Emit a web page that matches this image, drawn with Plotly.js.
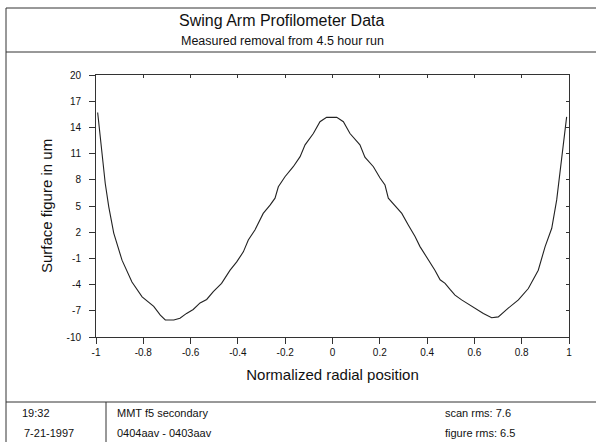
<!DOCTYPE html>
<html>
<head>
<meta charset="utf-8">
<script src="https://cdn.plot.ly/plotly-3.0.1.min.js"></script>
<style>html,body{margin:0;padding:0;background:#fff}#chart{width:596px;height:442px}</style>
</head>
<body>
<div id="chart"></div>
<script>
// ---- data ----
const radialPosition = [-0.993,-0.975,-0.961,-0.946,-0.925,-0.890,-0.848,-0.805,-0.756,-0.728,-0.707,-0.671,-0.645,-0.617,-0.589,-0.560,-0.532,-0.504,-0.469,-0.433,-0.405,-0.377,-0.356,-0.328,-0.293,-0.264,-0.243,-0.229,-0.201,-0.166,-0.137,-0.116,-0.081,-0.053,-0.025,0.018,0.046,0.074,0.102,0.116,0.137,0.173,0.201,0.222,0.236,0.264,0.293,0.321,0.349,0.370,0.398,0.433,0.455,0.476,0.497,0.518,0.546,0.581,0.610,0.638,0.673,0.701,0.743,0.786,0.828,0.870,0.899,0.927,0.948,0.969,0.990];
const surfaceFigure = [15.7,11.4,7.6,4.9,1.9,-1.2,-3.7,-5.4,-6.5,-7.5,-8.05,-8.05,-7.85,-7.3,-6.85,-6.1,-5.7,-4.8,-3.85,-2.35,-1.4,-0.25,1.1,2.25,4.15,5.1,5.9,7.2,8.35,9.5,10.65,12.0,13.3,14.65,15.15,15.15,14.65,13.3,12.4,12.0,10.6,9.5,8.2,7.4,5.9,5.1,4.15,2.8,1.5,0.35,-0.8,-2.35,-3.45,-3.85,-4.55,-5.2,-5.75,-6.35,-6.85,-7.3,-7.8,-7.7,-6.7,-5.75,-4.45,-2.35,0.35,2.45,5.7,10.3,15.2];
const xTickValues = [-1,-0.8,-0.6,-0.4,-0.2,0,0.2,0.4,0.6,0.8,1];
const xTickLabels = ['-1','-0.8','-0.6','-0.4','-0.2','0','0.2','0.4','0.6','0.8','1'];
const yTickValues = [20,17,14,11,8,5,2,-1,-4,-7,-10];
const yTickLabels = ['20','17','14','11','8','5','2','-1','-4','-7','-10'];
const titleText = 'Swing Arm Profilometer Data';
const subtitleText = 'Measured removal from 4.5 hour run';
const xTitle = 'Normalized radial position';
const yTitle = 'Surface figure in um';
const footerTime = '19:32';
const footerDate = '7-21-1997';
const footerPart = 'MMT f5 secondary';
const footerFiles = '0404aav - 0403aav';
const footerScan = 'scan rms: 7.6';
const footerFigure = 'figure rms: 6.5';

// ---- layout helpers ----
const W = 596, H = 442;
const L = 96, R = 569, T = 75, B = 337;
const FONT = 'Arial, "Liberation Sans", sans-serif';
const px = v => (v - L) / (R - L);
const py = v => (B - v) / (B - T);
const lineColor = '#333';

function hline(y, x0, x1) {
  return {type:'line', xref:'paper', yref:'paper', x0:px(x0), x1:px(x1), y0:py(y), y1:py(y), line:{color:lineColor, width:1}};
}
function vline(x, y0, y1) {
  return {type:'line', xref:'paper', yref:'paper', x0:px(x), x1:px(x), y0:py(y0), y1:py(y1), line:{color:lineColor, width:1}};
}
function label(text, x, y, size, anchor) {
  return {text:text, xref:'paper', yref:'paper', x:px(x), y:py(y), xanchor:anchor||'left', yanchor:'middle', showarrow:false, font:{family:FONT, size:size, color:'#111'}};
}

const trace = {
  x: radialPosition, y: surfaceFigure, type:'scatter', mode:'lines',
  line:{color:'#222', width:1.1}, hoverinfo:'skip', showlegend:false
};
const mirrorTrace = {x:[], y:[], xaxis:'x2', yaxis:'y2', type:'scatter', mode:'lines', showlegend:false, hoverinfo:'skip'};

const layout = {
  width:W, height:H,
  margin:{l:L, r:W-R, t:T, b:H-B, pad:0},
  paper_bgcolor:'#fff', plot_bgcolor:'#fff',
  font:{family:FONT, color:'#111'},
  showlegend:false,
  xaxis:{
    range:[-1,1], tickvals:xTickValues, ticktext:xTickLabels,
    ticks:'outside', ticklen:6, tickwidth:1, tickcolor:lineColor,
    showline:true, linecolor:lineColor, linewidth:1, showgrid:false, zeroline:false,
    tickfont:{family:FONT, size:10, color:'#111'},
    title:{text:xTitle, font:{family:FONT, size:15, color:'#111'}, standoff:12}
  },
  yaxis:{
    range:[-10,20], tickvals:yTickValues, ticktext:yTickLabels,
    ticks:'outside', ticklen:6, tickwidth:1, tickcolor:lineColor,
    showline:true, linecolor:lineColor, linewidth:1, showgrid:false, zeroline:false,
    tickfont:{family:FONT, size:10, color:'#111'}, ticklabelstandoff:6,
    title:{text:yTitle, font:{family:FONT, size:15, color:'#111'}, standoff:10}
  },
  xaxis2:{
    overlaying:'x', side:'top', anchor:'y', range:[-1,1], tickvals:xTickValues,
    ticks:'inside', ticklen:3, tickcolor:lineColor, showticklabels:false,
    showline:true, linecolor:lineColor, linewidth:1, showgrid:false, zeroline:false
  },
  yaxis2:{
    overlaying:'y', side:'right', anchor:'x', range:[-10,20], tickvals:yTickValues,
    ticks:'inside', ticklen:3, tickcolor:lineColor, showticklabels:false,
    showline:true, linecolor:lineColor, linewidth:1, showgrid:false, zeroline:false
  },
  shapes:[
    hline(8, 6, 596),
    hline(52, 6, 596),
    vline(6, 8, 442),
    hline(402, 6, 596),
    vline(106, 402, 442)
  ],
  annotations:[
    label(titleText, 282, 20, 16, 'center'),
    label(subtitleText, 282, 41, 12.5, 'center'),
    label(footerTime, 20, 413, 11),
    label(footerDate, 22, 433, 11),
    label(footerPart, 115, 413, 11),
    label(footerFiles, 115, 433, 11),
    label(footerScan, 443, 413, 11),
    label(footerFigure, 443, 433, 11)
  ]
};

Plotly.newPlot('chart', [trace, mirrorTrace], layout, {staticPlot:true, displayModeBar:false});
</script>
</body>
</html>
